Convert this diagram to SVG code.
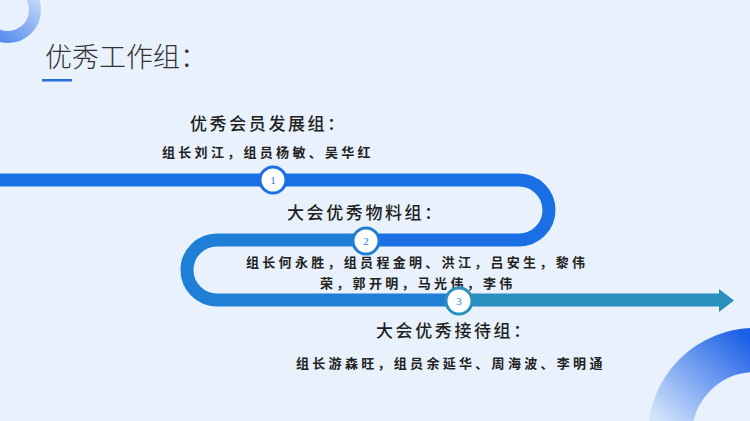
<svg xmlns="http://www.w3.org/2000/svg" width="750" height="421" viewBox="0 0 750 421">
<defs>
<style>
.title{font-family:"Noto Sans CJK SC","Noto Sans",sans-serif;font-size:27px;font-weight:300;fill:#333;}
.head{font-family:"Noto Sans CJK SC","Noto Sans",sans-serif;font-size:17px;font-weight:500;fill:#1f1f1f;letter-spacing:2.6px;}
.mem{font-family:"Noto Sans CJK SC","Noto Sans",sans-serif;font-size:13px;font-weight:700;fill:#222;letter-spacing:3.3px;}
.num{font-family:"Liberation Serif",serif;font-size:11px;text-anchor:middle;}
.bar{fill:none;stroke-width:13;}
.dot{fill:#fff;stroke-width:3;}
</style>
<linearGradient id="gTL" gradientUnits="userSpaceOnUse" x1="40" y1="-10" x2="0" y2="45">
<stop offset="0" stop-color="#d3e2fb"/>
<stop offset="1" stop-color="#4f86ee"/>
</linearGradient>
<linearGradient id="gBR" gradientUnits="userSpaceOnUse" x1="740" y1="330" x2="660" y2="421">
<stop offset="0" stop-color="#1a5fe6"/>
<stop offset="1" stop-color="#d2e3fb"/>
</linearGradient>
</defs>
<rect x="0" y="0" width="750" height="421" fill="#e8f1fc"/>
<g id="decor">
<circle cx="8" cy="10" r="27" fill="none" stroke="url(#gTL)" stroke-width="12"/>
<circle cx="755" cy="435" r="85" fill="none" stroke="url(#gBR)" stroke-width="44"/>
</g>
<g id="title">
<text class="title" x="45" y="67">优秀工作组：</text>
<rect x="42" y="79" width="30" height="2.5" fill="#2a6fe0"/>
</g>
<g id="connectors">
<path class="bar" stroke="#1b6fe5" d="M0,180 H519 A30,30 0 0 1 519,240 H366"/>
<path class="bar" stroke="#1f7fd6" d="M366,240 H217 A30,30 0 0 0 217,300 H459"/>
<path class="bar" stroke="#2890bf" d="M459,300 H721"/>
<polygon points="719,289 734,300.5 719,312" fill="#2890bf"/>
</g>
<g id="step1">
<text class="head" x="190" y="130">优秀会员发展组：</text>
<text class="mem" x="162" y="157">组长刘江，组员杨敏、吴华红</text>
<circle class="dot" cx="273" cy="180" r="13" stroke="#1b6fe5"/>
<text class="num" x="273" y="184" fill="#1b6fe5">1</text>
</g>
<g id="step2">
<text class="head" x="287" y="219">大会优秀物料组：</text>
<text class="mem" x="246" y="267">组长何永胜，组员程金明、洪江，吕安生，黎伟</text>
<text class="mem" x="320" y="288">荣，郭开明，马光伟，李伟</text>
<circle class="dot" cx="366" cy="241" r="13" stroke="#1f7fd6"/>
<text class="num" x="366" y="245" fill="#1f7fd6">2</text>
</g>
<g id="step3">
<text class="head" x="376" y="337">大会优秀接待组：</text>
<text class="mem" x="296" y="368">组长游森旺，组员余延华、周海波、李明通</text>
<circle class="dot" cx="459" cy="301" r="13" stroke="#2890bf"/>
<text class="num" x="459" y="305" fill="#2890bf">3</text>
</g>
</svg>
